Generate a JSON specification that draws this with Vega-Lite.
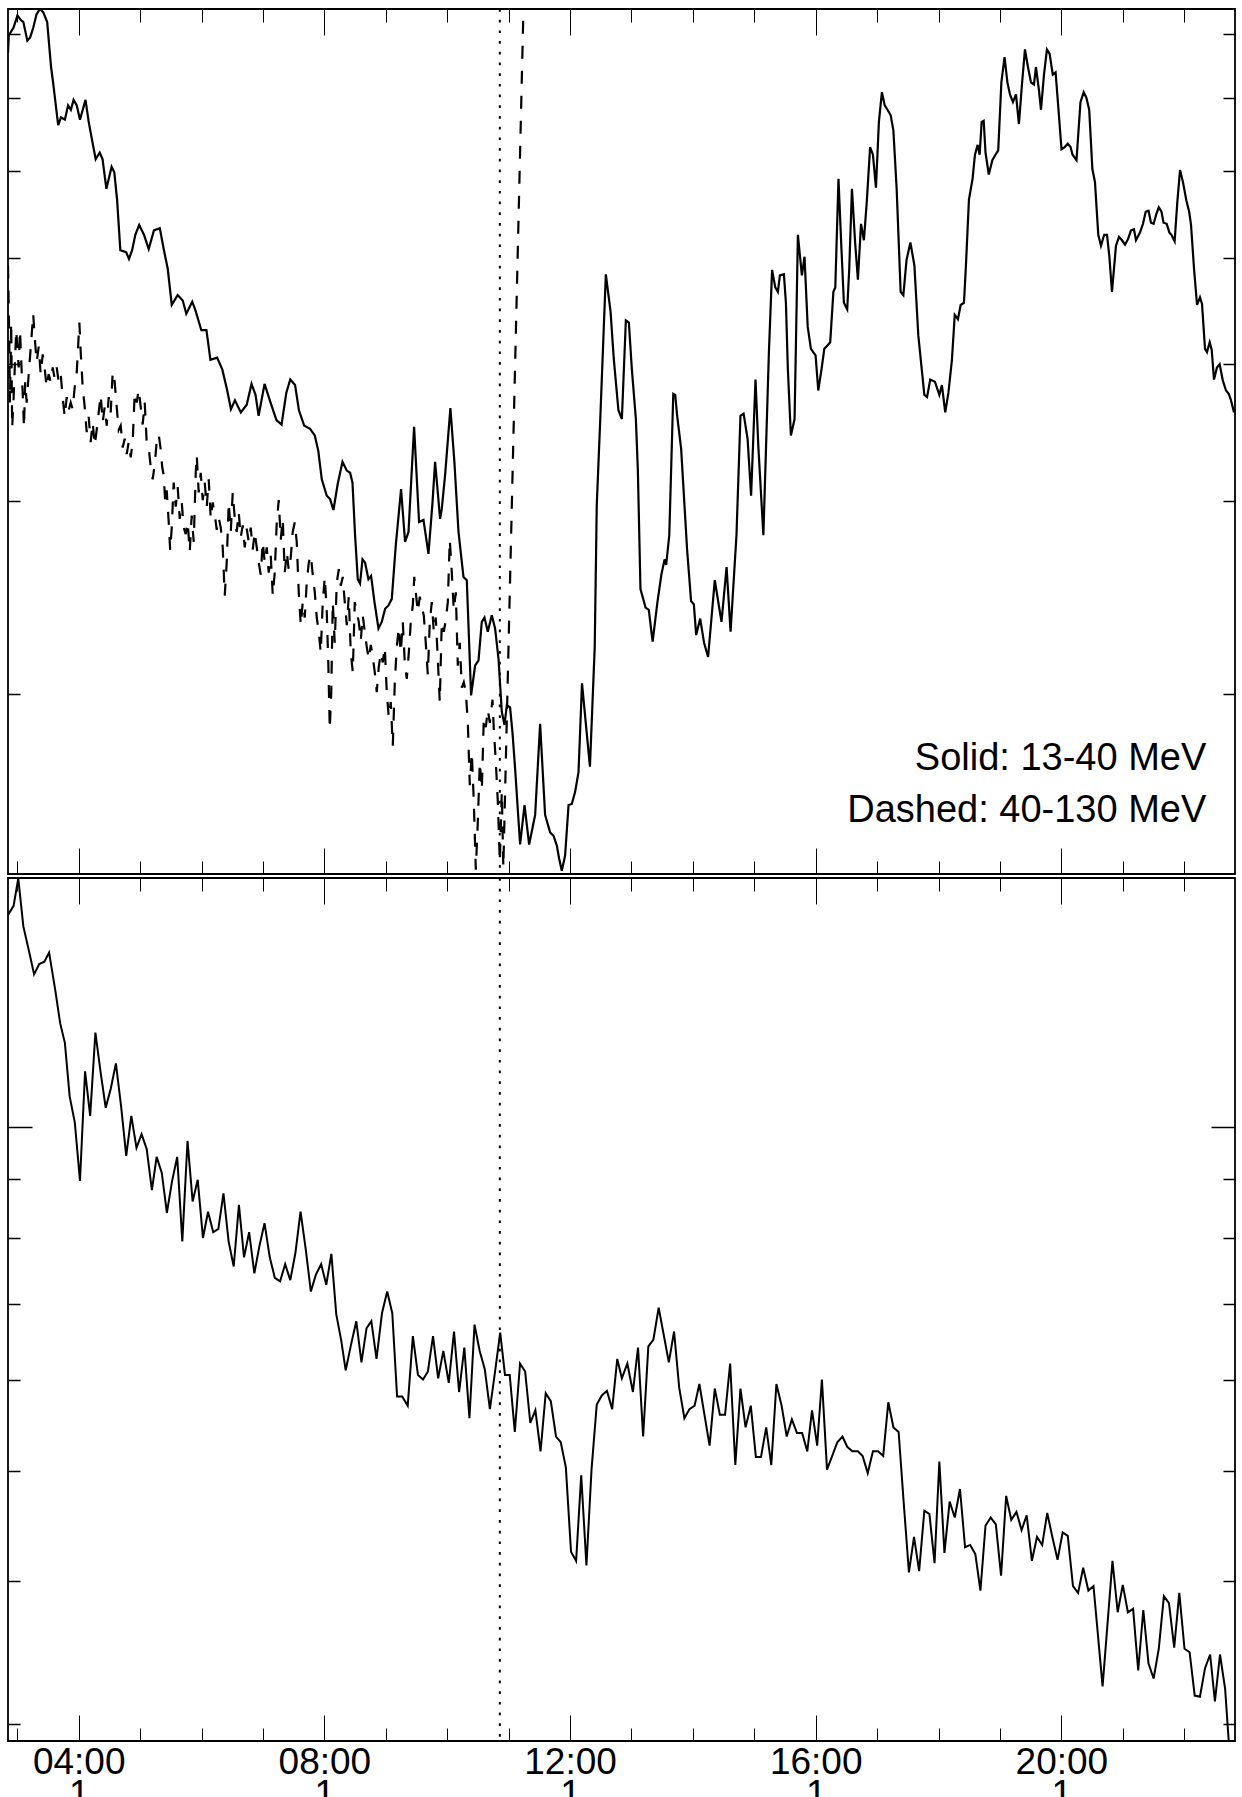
{
"$schema": "https://vega.github.io/schema/vega-lite/v6.json",
"padding": {"left": 6, "top": 7, "right": 0, "bottom": 0},
"background": "white",
"config": {
  "view": {"stroke": "black", "strokeWidth": 1.8},
  "axis": {"domain": false, "grid": false, "labels": false, "tickColor": "black"},
  "font": "Liberation Sans"
},
"spacing": 0,
"datasets": {
"solid": [
{"hour":2.849,"log_flux":0.886},{"hour":2.862,"log_flux":0.902},{"hour":2.940,"log_flux":0.909},{"hour":3.003,"log_flux":0.920},{"hour":3.055,"log_flux":0.916},{"hour":3.099,"log_flux":0.914},{"hour":3.164,"log_flux":0.897},{"hour":3.210,"log_flux":0.900},{"hour":3.261,"log_flux":0.909},{"hour":3.313,"log_flux":0.921},{"hour":3.370,"log_flux":0.926},{"hour":3.422,"log_flux":0.923},{"hour":3.487,"log_flux":0.914},{"hour":3.550,"log_flux":0.873},{"hour":3.583,"log_flux":0.859},{"hour":3.666,"log_flux":0.820},{"hour":3.712,"log_flux":0.827},{"hour":3.775,"log_flux":0.825},{"hour":3.827,"log_flux":0.838},{"hour":3.873,"log_flux":0.834},{"hour":3.917,"log_flux":0.843},{"hour":3.969,"log_flux":0.838},{"hour":4.021,"log_flux":0.825},{"hour":4.111,"log_flux":0.843},{"hour":4.163,"log_flux":0.823},{"hour":4.226,"log_flux":0.804},{"hour":4.277,"log_flux":0.789},{"hour":4.342,"log_flux":0.795},{"hour":4.388,"log_flux":0.789},{"hour":4.451,"log_flux":0.762},{"hour":4.536,"log_flux":0.782},{"hour":4.580,"log_flux":0.777},{"hour":4.625,"log_flux":0.752},{"hour":4.678,"log_flux":0.706},{"hour":4.774,"log_flux":0.704},{"hour":4.819,"log_flux":0.698},{"hour":4.870,"log_flux":0.706},{"hour":4.922,"log_flux":0.720},{"hour":4.985,"log_flux":0.729},{"hour":5.063,"log_flux":0.720},{"hour":5.140,"log_flux":0.707},{"hour":5.225,"log_flux":0.724},{"hour":5.321,"log_flux":0.726},{"hour":5.384,"log_flux":0.707},{"hour":5.450,"log_flux":0.689},{"hour":5.515,"log_flux":0.656},{"hour":5.611,"log_flux":0.665},{"hour":5.694,"log_flux":0.660},{"hour":5.752,"log_flux":0.648},{"hour":5.849,"log_flux":0.659},{"hour":5.901,"log_flux":0.651},{"hour":5.997,"log_flux":0.633},{"hour":6.080,"log_flux":0.633},{"hour":6.145,"log_flux":0.606},{"hour":6.254,"log_flux":0.608},{"hour":6.339,"log_flux":0.597},{"hour":6.415,"log_flux":0.579},{"hour":6.479,"log_flux":0.561},{"hour":6.544,"log_flux":0.569},{"hour":6.640,"log_flux":0.558},{"hour":6.736,"log_flux":0.565},{"hour":6.814,"log_flux":0.584},{"hour":6.879,"log_flux":0.574},{"hour":6.930,"log_flux":0.555},{"hour":7.026,"log_flux":0.584},{"hour":7.124,"log_flux":0.567},{"hour":7.220,"log_flux":0.551},{"hour":7.303,"log_flux":0.547},{"hour":7.381,"log_flux":0.576},{"hour":7.445,"log_flux":0.588},{"hour":7.523,"log_flux":0.583},{"hour":7.586,"log_flux":0.560},{"hour":7.671,"log_flux":0.546},{"hour":7.767,"log_flux":0.543},{"hour":7.844,"log_flux":0.537},{"hour":7.901,"log_flux":0.523},{"hour":7.958,"log_flux":0.497},{"hour":8.039,"log_flux":0.482},{"hour":8.093,"log_flux":0.479},{"hour":8.148,"log_flux":0.469},{"hour":8.218,"log_flux":0.493},{"hour":8.295,"log_flux":0.513},{"hour":8.365,"log_flux":0.505},{"hour":8.419,"log_flux":0.503},{"hour":8.458,"log_flux":0.494},{"hour":8.500,"log_flux":0.446},{"hour":8.544,"log_flux":0.406},{"hour":8.581,"log_flux":0.402},{"hour":8.621,"log_flux":0.424},{"hour":8.663,"log_flux":0.421},{"hour":8.718,"log_flux":0.406},{"hour":8.761,"log_flux":0.409},{"hour":8.816,"log_flux":0.385},{"hour":8.881,"log_flux":0.361},{"hour":8.935,"log_flux":0.367},{"hour":8.989,"log_flux":0.379},{"hour":9.044,"log_flux":0.382},{"hour":9.098,"log_flux":0.388},{"hour":9.163,"log_flux":0.437},{"hour":9.249,"log_flux":0.488},{"hour":9.314,"log_flux":0.440},{"hour":9.370,"log_flux":0.449},{"hour":9.461,"log_flux":0.545},{"hour":9.542,"log_flux":0.458},{"hour":9.614,"log_flux":0.460},{"hour":9.695,"log_flux":0.429},{"hour":9.761,"log_flux":0.476},{"hour":9.803,"log_flux":0.513},{"hour":9.847,"log_flux":0.485},{"hour":9.884,"log_flux":0.461},{"hour":9.912,"log_flux":0.470},{"hour":9.966,"log_flux":0.501},{"hour":10.052,"log_flux":0.562},{"hour":10.117,"log_flux":0.513},{"hour":10.184,"log_flux":0.449},{"hour":10.265,"log_flux":0.408},{"hour":10.319,"log_flux":0.405},{"hour":10.389,"log_flux":0.300},{"hour":10.454,"log_flux":0.327},{"hour":10.510,"log_flux":0.332},{"hour":10.563,"log_flux":0.367},{"hour":10.607,"log_flux":0.371},{"hour":10.661,"log_flux":0.358},{"hour":10.726,"log_flux":0.373},{"hour":10.780,"log_flux":0.361},{"hour":10.836,"log_flux":0.333},{"hour":10.889,"log_flux":0.285},{"hour":10.933,"log_flux":0.273},{"hour":10.971,"log_flux":0.291},{"hour":11.024,"log_flux":0.289},{"hour":11.063,"log_flux":0.266},{"hour":11.106,"log_flux":0.233},{"hour":11.187,"log_flux":0.164},{"hour":11.259,"log_flux":0.200},{"hour":11.334,"log_flux":0.164},{"hour":11.432,"log_flux":0.191},{"hour":11.513,"log_flux":0.274},{"hour":11.594,"log_flux":0.191},{"hour":11.676,"log_flux":0.175},{"hour":11.731,"log_flux":0.172},{"hour":11.785,"log_flux":0.163},{"hour":11.823,"log_flux":0.151},{"hour":11.866,"log_flux":0.140},{"hour":11.920,"log_flux":0.154},{"hour":11.976,"log_flux":0.200},{"hour":12.029,"log_flux":0.201},{"hour":12.083,"log_flux":0.212},{"hour":12.138,"log_flux":0.230},{"hour":12.195,"log_flux":0.311},{"hour":12.324,"log_flux":0.235},{"hour":12.402,"log_flux":0.344},{"hour":12.435,"log_flux":0.473},{"hour":12.498,"log_flux":0.560},{"hour":12.583,"log_flux":0.684},{"hour":12.660,"log_flux":0.650},{"hour":12.712,"log_flux":0.607},{"hour":12.788,"log_flux":0.560},{"hour":12.844,"log_flux":0.552},{"hour":12.909,"log_flux":0.642},{"hour":12.958,"log_flux":0.640},{"hour":13.007,"log_flux":0.597},{"hour":13.072,"log_flux":0.552},{"hour":13.104,"log_flux":0.506},{"hour":13.147,"log_flux":0.397},{"hour":13.230,"log_flux":0.380},{"hour":13.282,"log_flux":0.378},{"hour":13.345,"log_flux":0.349},{"hour":13.423,"log_flux":0.385},{"hour":13.487,"log_flux":0.410},{"hour":13.539,"log_flux":0.424},{"hour":13.565,"log_flux":0.419},{"hour":13.616,"log_flux":0.446},{"hour":13.681,"log_flux":0.575},{"hour":13.713,"log_flux":0.574},{"hour":13.744,"log_flux":0.555},{"hour":13.809,"log_flux":0.525},{"hour":13.906,"log_flux":0.433},{"hour":13.971,"log_flux":0.386},{"hour":14.016,"log_flux":0.383},{"hour":14.054,"log_flux":0.355},{"hour":14.119,"log_flux":0.370},{"hour":14.182,"log_flux":0.348},{"hour":14.248,"log_flux":0.335},{"hour":14.357,"log_flux":0.405},{"hour":14.466,"log_flux":0.367},{"hour":14.549,"log_flux":0.417},{"hour":14.614,"log_flux":0.358},{"hour":14.710,"log_flux":0.446},{"hour":14.775,"log_flux":0.555},{"hour":14.826,"log_flux":0.557},{"hour":14.891,"log_flux":0.534},{"hour":14.948,"log_flux":0.482},{"hour":15.020,"log_flux":0.588},{"hour":15.065,"log_flux":0.528},{"hour":15.148,"log_flux":0.446},{"hour":15.238,"log_flux":0.613},{"hour":15.290,"log_flux":0.688},{"hour":15.342,"log_flux":0.672},{"hour":15.384,"log_flux":0.668},{"hour":15.417,"log_flux":0.683},{"hour":15.482,"log_flux":0.684},{"hour":15.515,"log_flux":0.658},{"hour":15.547,"log_flux":0.597},{"hour":15.596,"log_flux":0.537},{"hour":15.656,"log_flux":0.552},{"hour":15.710,"log_flux":0.720},{"hour":15.775,"log_flux":0.683},{"hour":15.818,"log_flux":0.700},{"hour":15.870,"log_flux":0.636},{"hour":15.922,"log_flux":0.616},{"hour":15.998,"log_flux":0.610},{"hour":16.042,"log_flux":0.578},{"hour":16.094,"log_flux":0.597},{"hour":16.140,"log_flux":0.616},{"hour":16.191,"log_flux":0.619},{"hour":16.236,"log_flux":0.622},{"hour":16.288,"log_flux":0.668},{"hour":16.319,"log_flux":0.672},{"hour":16.371,"log_flux":0.771},{"hour":16.417,"log_flux":0.710},{"hour":16.459,"log_flux":0.658},{"hour":16.513,"log_flux":0.652},{"hour":16.546,"log_flux":0.689},{"hour":16.590,"log_flux":0.762},{"hour":16.642,"log_flux":0.713},{"hour":16.687,"log_flux":0.679},{"hour":16.738,"log_flux":0.730},{"hour":16.785,"log_flux":0.715},{"hour":16.834,"log_flux":0.752},{"hour":16.886,"log_flux":0.800},{"hour":16.932,"log_flux":0.793},{"hour":16.981,"log_flux":0.763},{"hour":17.029,"log_flux":0.823},{"hour":17.078,"log_flux":0.850},{"hour":17.124,"log_flux":0.838},{"hour":17.169,"log_flux":0.834},{"hour":17.221,"log_flux":0.829},{"hour":17.265,"log_flux":0.815},{"hour":17.318,"log_flux":0.762},{"hour":17.383,"log_flux":0.668},{"hour":17.427,"log_flux":0.665},{"hour":17.479,"log_flux":0.697},{"hour":17.542,"log_flux":0.713},{"hour":17.607,"log_flux":0.692},{"hour":17.671,"log_flux":0.628},{"hour":17.769,"log_flux":0.574},{"hour":17.813,"log_flux":0.572},{"hour":17.865,"log_flux":0.588},{"hour":17.941,"log_flux":0.586},{"hour":18.013,"log_flux":0.574},{"hour":18.055,"log_flux":0.583},{"hour":18.109,"log_flux":0.558},{"hour":18.161,"log_flux":0.576},{"hour":18.218,"log_flux":0.606},{"hour":18.264,"log_flux":0.647},{"hour":18.316,"log_flux":0.643},{"hour":18.360,"log_flux":0.656},{"hour":18.414,"log_flux":0.658},{"hour":18.446,"log_flux":0.692},{"hour":18.495,"log_flux":0.752},{"hour":18.554,"log_flux":0.771},{"hour":18.593,"log_flux":0.793},{"hour":18.637,"log_flux":0.802},{"hour":18.669,"log_flux":0.793},{"hour":18.702,"log_flux":0.823},{"hour":18.735,"log_flux":0.824},{"hour":18.765,"log_flux":0.795},{"hour":18.818,"log_flux":0.775},{"hour":18.876,"log_flux":0.788},{"hour":18.927,"log_flux":0.793},{"hour":18.972,"log_flux":0.797},{"hour":19.023,"log_flux":0.859},{"hour":19.075,"log_flux":0.882},{"hour":19.121,"log_flux":0.859},{"hour":19.163,"log_flux":0.848},{"hour":19.212,"log_flux":0.841},{"hour":19.261,"log_flux":0.848},{"hour":19.309,"log_flux":0.821},{"hour":19.358,"log_flux":0.857},{"hour":19.407,"log_flux":0.889},{"hour":19.456,"log_flux":0.873},{"hour":19.505,"log_flux":0.859},{"hour":19.554,"log_flux":0.857},{"hour":19.586,"log_flux":0.873},{"hour":19.635,"log_flux":0.852},{"hour":19.668,"log_flux":0.834},{"hour":19.717,"log_flux":0.866},{"hour":19.765,"log_flux":0.889},{"hour":19.809,"log_flux":0.885},{"hour":19.860,"log_flux":0.866},{"hour":19.906,"log_flux":0.868},{"hour":19.956,"log_flux":0.832},{"hour":20.002,"log_flux":0.798},{"hour":20.054,"log_flux":0.800},{"hour":20.104,"log_flux":0.803},{"hour":20.150,"log_flux":0.800},{"hour":20.182,"log_flux":0.793},{"hour":20.246,"log_flux":0.788},{"hour":20.311,"log_flux":0.841},{"hour":20.363,"log_flux":0.850},{"hour":20.407,"log_flux":0.845},{"hour":20.453,"log_flux":0.834},{"hour":20.505,"log_flux":0.780},{"hour":20.547,"log_flux":0.768},{"hour":20.601,"log_flux":0.720},{"hour":20.645,"log_flux":0.710},{"hour":20.697,"log_flux":0.720},{"hour":20.743,"log_flux":0.720},{"hour":20.780,"log_flux":0.701},{"hour":20.824,"log_flux":0.668},{"hour":20.889,"log_flux":0.710},{"hour":20.938,"log_flux":0.718},{"hour":20.987,"log_flux":0.715},{"hour":21.036,"log_flux":0.711},{"hour":21.085,"log_flux":0.716},{"hour":21.134,"log_flux":0.724},{"hour":21.182,"log_flux":0.725},{"hour":21.215,"log_flux":0.715},{"hour":21.280,"log_flux":0.722},{"hour":21.329,"log_flux":0.730},{"hour":21.373,"log_flux":0.741},{"hour":21.419,"log_flux":0.742},{"hour":21.459,"log_flux":0.731},{"hour":21.502,"log_flux":0.730},{"hour":21.547,"log_flux":0.739},{"hour":21.586,"log_flux":0.745},{"hour":21.630,"log_flux":0.741},{"hour":21.663,"log_flux":0.731},{"hour":21.715,"log_flux":0.730},{"hour":21.759,"log_flux":0.722},{"hour":21.792,"log_flux":0.720},{"hour":21.844,"log_flux":0.714},{"hour":21.888,"log_flux":0.750},{"hour":21.932,"log_flux":0.779},{"hour":21.980,"log_flux":0.768},{"hour":22.036,"log_flux":0.751},{"hour":22.081,"log_flux":0.741},{"hour":22.111,"log_flux":0.729},{"hour":22.160,"log_flux":0.689},{"hour":22.209,"log_flux":0.656},{"hour":22.257,"log_flux":0.663},{"hour":22.290,"log_flux":0.657},{"hour":22.339,"log_flux":0.616},{"hour":22.371,"log_flux":0.613},{"hour":22.415,"log_flux":0.622},{"hour":22.448,"log_flux":0.615},{"hour":22.485,"log_flux":0.588},{"hour":22.533,"log_flux":0.599},{"hour":22.577,"log_flux":0.602},{"hour":22.629,"log_flux":0.587},{"hour":22.681,"log_flux":0.578},{"hour":22.725,"log_flux":0.575},{"hour":22.757,"log_flux":0.570},{"hour":22.811,"log_flux":0.558}
],
"dashed": [
{"hour":2.849,"log_flux":0.692},{"hour":2.868,"log_flux":0.631},{"hour":2.881,"log_flux":0.567},{"hour":2.901,"log_flux":0.640},{"hour":2.917,"log_flux":0.544},{"hour":2.941,"log_flux":0.572},{"hour":2.963,"log_flux":0.604},{"hour":2.982,"log_flux":0.633},{"hour":3.007,"log_flux":0.613},{"hour":3.023,"log_flux":0.599},{"hour":3.044,"log_flux":0.633},{"hour":3.072,"log_flux":0.595},{"hour":3.088,"log_flux":0.576},{"hour":3.109,"log_flux":0.544},{"hour":3.129,"log_flux":0.586},{"hour":3.153,"log_flux":0.567},{"hour":3.194,"log_flux":0.599},{"hour":3.226,"log_flux":0.622},{"hour":3.259,"log_flux":0.648},{"hour":3.283,"log_flux":0.627},{"hour":3.316,"log_flux":0.604},{"hour":3.349,"log_flux":0.618},{"hour":3.381,"log_flux":0.593},{"hour":3.414,"log_flux":0.611},{"hour":3.446,"log_flux":0.598},{"hour":3.479,"log_flux":0.581},{"hour":3.511,"log_flux":0.593},{"hour":3.544,"log_flux":0.586},{"hour":3.577,"log_flux":0.599},{"hour":3.609,"log_flux":0.589},{"hour":3.642,"log_flux":0.599},{"hour":3.674,"log_flux":0.586},{"hour":3.707,"log_flux":0.593},{"hour":3.739,"log_flux":0.572},{"hour":3.772,"log_flux":0.554},{"hour":3.805,"log_flux":0.572},{"hour":3.837,"log_flux":0.560},{"hour":3.870,"log_flux":0.567},{"hour":3.902,"log_flux":0.561},{"hour":3.935,"log_flux":0.581},{"hour":3.967,"log_flux":0.593},{"hour":4.011,"log_flux":0.640},{"hour":4.033,"log_flux":0.613},{"hour":4.065,"log_flux":0.581},{"hour":4.098,"log_flux":0.563},{"hour":4.130,"log_flux":0.540},{"hour":4.163,"log_flux":0.554},{"hour":4.195,"log_flux":0.531},{"hour":4.228,"log_flux":0.549},{"hour":4.261,"log_flux":0.528},{"hour":4.293,"log_flux":0.542},{"hour":4.326,"log_flux":0.558},{"hour":4.358,"log_flux":0.574},{"hour":4.391,"log_flux":0.549},{"hour":4.423,"log_flux":0.563},{"hour":4.456,"log_flux":0.546},{"hour":4.489,"log_flux":0.572},{"hour":4.521,"log_flux":0.558},{"hour":4.554,"log_flux":0.595},{"hour":4.586,"log_flux":0.586},{"hour":4.619,"log_flux":0.563},{"hour":4.651,"log_flux":0.542},{"hour":4.684,"log_flux":0.546},{"hour":4.717,"log_flux":0.526},{"hour":4.749,"log_flux":0.534},{"hour":4.782,"log_flux":0.520},{"hour":4.814,"log_flux":0.531},{"hour":4.847,"log_flux":0.517},{"hour":4.879,"log_flux":0.531},{"hour":4.912,"log_flux":0.576},{"hour":4.945,"log_flux":0.567},{"hour":4.977,"log_flux":0.579},{"hour":5.010,"log_flux":0.563},{"hour":5.042,"log_flux":0.547},{"hour":5.075,"log_flux":0.567},{"hour":5.107,"log_flux":0.531},{"hour":5.140,"log_flux":0.526},{"hour":5.173,"log_flux":0.508},{"hour":5.205,"log_flux":0.497},{"hour":5.238,"log_flux":0.511},{"hour":5.270,"log_flux":0.531},{"hour":5.303,"log_flux":0.538},{"hour":5.336,"log_flux":0.524},{"hour":5.360,"log_flux":0.508},{"hour":5.384,"log_flux":0.501},{"hour":5.409,"log_flux":0.476},{"hour":5.433,"log_flux":0.487},{"hour":5.466,"log_flux":0.458},{"hour":5.490,"log_flux":0.432},{"hour":5.515,"log_flux":0.453},{"hour":5.547,"log_flux":0.494},{"hour":5.580,"log_flux":0.472},{"hour":5.612,"log_flux":0.490},{"hour":5.645,"log_flux":0.461},{"hour":5.678,"log_flux":0.476},{"hour":5.710,"log_flux":0.453},{"hour":5.743,"log_flux":0.447},{"hour":5.775,"log_flux":0.458},{"hour":5.808,"log_flux":0.431},{"hour":5.840,"log_flux":0.464},{"hour":5.873,"log_flux":0.440},{"hour":5.906,"log_flux":0.503},{"hour":5.922,"log_flux":0.519},{"hour":5.954,"log_flux":0.485},{"hour":5.987,"log_flux":0.503},{"hour":6.020,"log_flux":0.478},{"hour":6.052,"log_flux":0.494},{"hour":6.085,"log_flux":0.472},{"hour":6.117,"log_flux":0.497},{"hour":6.150,"log_flux":0.461},{"hour":6.182,"log_flux":0.476},{"hour":6.215,"log_flux":0.465},{"hour":6.248,"log_flux":0.451},{"hour":6.280,"log_flux":0.462},{"hour":6.313,"log_flux":0.453},{"hour":6.345,"log_flux":0.435},{"hour":6.378,"log_flux":0.391},{"hour":6.410,"log_flux":0.421},{"hour":6.443,"log_flux":0.476},{"hour":6.476,"log_flux":0.449},{"hour":6.508,"log_flux":0.485},{"hour":6.541,"log_flux":0.462},{"hour":6.573,"log_flux":0.449},{"hour":6.606,"log_flux":0.467},{"hour":6.638,"log_flux":0.444},{"hour":6.671,"log_flux":0.455},{"hour":6.704,"log_flux":0.435},{"hour":6.736,"log_flux":0.452},{"hour":6.769,"log_flux":0.440},{"hour":6.801,"log_flux":0.453},{"hour":6.834,"log_flux":0.433},{"hour":6.866,"log_flux":0.449},{"hour":6.899,"log_flux":0.435},{"hour":6.932,"log_flux":0.421},{"hour":6.964,"log_flux":0.410},{"hour":6.997,"log_flux":0.440},{"hour":7.029,"log_flux":0.421},{"hour":7.062,"log_flux":0.435},{"hour":7.094,"log_flux":0.412},{"hour":7.127,"log_flux":0.428},{"hour":7.160,"log_flux":0.391},{"hour":7.192,"log_flux":0.412},{"hour":7.225,"log_flux":0.458},{"hour":7.257,"log_flux":0.478},{"hour":7.290,"log_flux":0.442},{"hour":7.322,"log_flux":0.461},{"hour":7.355,"log_flux":0.412},{"hour":7.388,"log_flux":0.431},{"hour":7.420,"log_flux":0.414},{"hour":7.453,"log_flux":0.426},{"hour":7.485,"log_flux":0.449},{"hour":7.518,"log_flux":0.458},{"hour":7.550,"log_flux":0.440},{"hour":7.583,"log_flux":0.394},{"hour":7.616,"log_flux":0.364},{"hour":7.648,"log_flux":0.385},{"hour":7.681,"log_flux":0.371},{"hour":7.713,"log_flux":0.403},{"hour":7.746,"log_flux":0.421},{"hour":7.779,"log_flux":0.428},{"hour":7.811,"log_flux":0.410},{"hour":7.844,"log_flux":0.394},{"hour":7.876,"log_flux":0.371},{"hour":7.909,"log_flux":0.358},{"hour":7.941,"log_flux":0.339},{"hour":7.974,"log_flux":0.385},{"hour":8.007,"log_flux":0.408},{"hour":8.039,"log_flux":0.376},{"hour":8.064,"log_flux":0.330},{"hour":8.088,"log_flux":0.269},{"hour":8.112,"log_flux":0.303},{"hour":8.137,"log_flux":0.385},{"hour":8.169,"log_flux":0.348},{"hour":8.202,"log_flux":0.403},{"hour":8.235,"log_flux":0.415},{"hour":8.267,"log_flux":0.400},{"hour":8.300,"log_flux":0.408},{"hour":8.332,"log_flux":0.385},{"hour":8.365,"log_flux":0.364},{"hour":8.397,"log_flux":0.390},{"hour":8.430,"log_flux":0.339},{"hour":8.463,"log_flux":0.321},{"hour":8.495,"log_flux":0.385},{"hour":8.528,"log_flux":0.376},{"hour":8.560,"log_flux":0.367},{"hour":8.593,"log_flux":0.350},{"hour":8.625,"log_flux":0.373},{"hour":8.658,"log_flux":0.358},{"hour":8.691,"log_flux":0.344},{"hour":8.723,"log_flux":0.333},{"hour":8.756,"log_flux":0.346},{"hour":8.788,"log_flux":0.335},{"hour":8.821,"log_flux":0.321},{"hour":8.853,"log_flux":0.303},{"hour":8.886,"log_flux":0.326},{"hour":8.919,"log_flux":0.339},{"hour":8.951,"log_flux":0.330},{"hour":8.984,"log_flux":0.344},{"hour":9.016,"log_flux":0.303},{"hour":9.049,"log_flux":0.280},{"hour":9.081,"log_flux":0.294},{"hour":9.114,"log_flux":0.254},{"hour":9.147,"log_flux":0.312},{"hour":9.179,"log_flux":0.344},{"hour":9.212,"log_flux":0.362},{"hour":9.244,"log_flux":0.339},{"hour":9.277,"log_flux":0.367},{"hour":9.309,"log_flux":0.330},{"hour":9.342,"log_flux":0.315},{"hour":9.375,"log_flux":0.339},{"hour":9.407,"log_flux":0.367},{"hour":9.440,"log_flux":0.382},{"hour":9.464,"log_flux":0.408},{"hour":9.489,"log_flux":0.394},{"hour":9.521,"log_flux":0.376},{"hour":9.554,"log_flux":0.390},{"hour":9.586,"log_flux":0.380},{"hour":9.619,"log_flux":0.373},{"hour":9.651,"log_flux":0.348},{"hour":9.684,"log_flux":0.319},{"hour":9.717,"log_flux":0.367},{"hour":9.749,"log_flux":0.385},{"hour":9.782,"log_flux":0.358},{"hour":9.814,"log_flux":0.371},{"hour":9.847,"log_flux":0.333},{"hour":9.879,"log_flux":0.294},{"hour":9.912,"log_flux":0.367},{"hour":9.945,"log_flux":0.358},{"hour":9.977,"log_flux":0.369},{"hour":10.010,"log_flux":0.385},{"hour":10.042,"log_flux":0.442},{"hour":10.075,"log_flux":0.412},{"hour":10.107,"log_flux":0.378},{"hour":10.140,"log_flux":0.394},{"hour":10.173,"log_flux":0.327},{"hour":10.205,"log_flux":0.348},{"hour":10.238,"log_flux":0.307},{"hour":10.270,"log_flux":0.312},{"hour":10.303,"log_flux":0.303},{"hour":10.336,"log_flux":0.275},{"hour":10.368,"log_flux":0.218},{"hour":10.401,"log_flux":0.248},{"hour":10.433,"log_flux":0.203},{"hour":10.466,"log_flux":0.141},{"hour":10.498,"log_flux":0.184},{"hour":10.531,"log_flux":0.239},{"hour":10.564,"log_flux":0.214},{"hour":10.596,"log_flux":0.280},{"hour":10.629,"log_flux":0.271},{"hour":10.661,"log_flux":0.287},{"hour":10.694,"log_flux":0.275},{"hour":10.738,"log_flux":0.296},{"hour":10.759,"log_flux":0.269},{"hour":10.792,"log_flux":0.239},{"hour":10.824,"log_flux":0.203},{"hour":10.857,"log_flux":0.148},{"hour":10.889,"log_flux":0.212},{"hour":10.914,"log_flux":0.143},{"hour":11.691,"log_flux":2.0}
],
"bottom": [
{"hour":2.849,"log_flux":1.186},{"hour":2.940,"log_flux":1.194},{"hour":3.016,"log_flux":1.218},{"hour":3.099,"log_flux":1.176},{"hour":3.184,"log_flux":1.156},{"hour":3.274,"log_flux":1.134},{"hour":3.357,"log_flux":1.143},{"hour":3.441,"log_flux":1.145},{"hour":3.518,"log_flux":1.153},{"hour":3.616,"log_flux":1.121},{"hour":3.699,"log_flux":1.091},{"hour":3.775,"log_flux":1.074},{"hour":3.853,"log_flux":1.027},{"hour":3.937,"log_flux":1.004},{"hour":4.021,"log_flux":0.953},{"hour":4.104,"log_flux":1.049},{"hour":4.187,"log_flux":1.010},{"hour":4.272,"log_flux":1.083},{"hour":4.355,"log_flux":1.049},{"hour":4.440,"log_flux":1.017},{"hour":4.523,"log_flux":1.034},{"hour":4.606,"log_flux":1.056},{"hour":4.691,"log_flux":1.018},{"hour":4.774,"log_flux":0.975},{"hour":4.857,"log_flux":1.010},{"hour":4.941,"log_flux":0.982},{"hour":5.024,"log_flux":0.994},{"hour":5.107,"log_flux":0.981},{"hour":5.192,"log_flux":0.945},{"hour":5.269,"log_flux":0.974},{"hour":5.353,"log_flux":0.960},{"hour":5.436,"log_flux":0.925},{"hour":5.521,"log_flux":0.953},{"hour":5.604,"log_flux":0.974},{"hour":5.687,"log_flux":0.900},{"hour":5.772,"log_flux":0.988},{"hour":5.855,"log_flux":0.935},{"hour":5.938,"log_flux":0.954},{"hour":6.023,"log_flux":0.903},{"hour":6.106,"log_flux":0.926},{"hour":6.191,"log_flux":0.908},{"hour":6.274,"log_flux":0.911},{"hour":6.357,"log_flux":0.942},{"hour":6.441,"log_flux":0.900},{"hour":6.524,"log_flux":0.878},{"hour":6.609,"log_flux":0.932},{"hour":6.692,"log_flux":0.886},{"hour":6.775,"log_flux":0.908},{"hour":6.860,"log_flux":0.872},{"hour":6.943,"log_flux":0.896},{"hour":7.026,"log_flux":0.916},{"hour":7.111,"log_flux":0.886},{"hour":7.194,"log_flux":0.868},{"hour":7.279,"log_flux":0.865},{"hour":7.362,"log_flux":0.880},{"hour":7.445,"log_flux":0.866},{"hour":7.529,"log_flux":0.890},{"hour":7.612,"log_flux":0.926},{"hour":7.697,"log_flux":0.893},{"hour":7.780,"log_flux":0.856},{"hour":7.863,"log_flux":0.871},{"hour":7.948,"log_flux":0.880},{"hour":8.031,"log_flux":0.862},{"hour":8.114,"log_flux":0.889},{"hour":8.194,"log_flux":0.836},{"hour":8.275,"log_flux":0.813},{"hour":8.347,"log_flux":0.787},{"hour":8.436,"log_flux":0.810},{"hour":8.520,"log_flux":0.830},{"hour":8.604,"log_flux":0.794},{"hour":8.687,"log_flux":0.824},{"hour":8.765,"log_flux":0.830},{"hour":8.849,"log_flux":0.797},{"hour":8.938,"log_flux":0.837},{"hour":9.023,"log_flux":0.856},{"hour":9.106,"log_flux":0.837},{"hour":9.184,"log_flux":0.764},{"hour":9.267,"log_flux":0.764},{"hour":9.357,"log_flux":0.756},{"hour":9.441,"log_flux":0.817},{"hour":9.524,"log_flux":0.783},{"hour":9.607,"log_flux":0.779},{"hour":9.686,"log_flux":0.786},{"hour":9.769,"log_flux":0.817},{"hour":9.853,"log_flux":0.780},{"hour":9.937,"log_flux":0.804},{"hour":10.026,"log_flux":0.776},{"hour":10.111,"log_flux":0.821},{"hour":10.194,"log_flux":0.768},{"hour":10.279,"log_flux":0.807},{"hour":10.362,"log_flux":0.745},{"hour":10.445,"log_flux":0.827},{"hour":10.529,"log_flux":0.804},{"hour":10.612,"log_flux":0.788},{"hour":10.695,"log_flux":0.753},{"hour":10.780,"log_flux":0.786},{"hour":10.863,"log_flux":0.820},{"hour":10.941,"log_flux":0.783},{"hour":11.018,"log_flux":0.783},{"hour":11.101,"log_flux":0.733},{"hour":11.186,"log_flux":0.793},{"hour":11.269,"log_flux":0.786},{"hour":11.353,"log_flux":0.741},{"hour":11.436,"log_flux":0.752},{"hour":11.520,"log_flux":0.716},{"hour":11.604,"log_flux":0.767},{"hour":11.687,"log_flux":0.760},{"hour":11.772,"log_flux":0.729},{"hour":11.849,"log_flux":0.724},{"hour":11.932,"log_flux":0.702},{"hour":12.016,"log_flux":0.628},{"hour":12.099,"log_flux":0.620},{"hour":12.182,"log_flux":0.695},{"hour":12.267,"log_flux":0.616},{"hour":12.350,"log_flux":0.700},{"hour":12.435,"log_flux":0.757},{"hour":12.518,"log_flux":0.765},{"hour":12.601,"log_flux":0.769},{"hour":12.686,"log_flux":0.753},{"hour":12.769,"log_flux":0.797},{"hour":12.844,"log_flux":0.780},{"hour":12.933,"log_flux":0.793},{"hour":13.024,"log_flux":0.768},{"hour":13.107,"log_flux":0.807},{"hour":13.190,"log_flux":0.729},{"hour":13.275,"log_flux":0.808},{"hour":13.358,"log_flux":0.814},{"hour":13.443,"log_flux":0.842},{"hour":13.526,"log_flux":0.818},{"hour":13.609,"log_flux":0.794},{"hour":13.694,"log_flux":0.821},{"hour":13.777,"log_flux":0.772},{"hour":13.862,"log_flux":0.745},{"hour":13.945,"log_flux":0.753},{"hour":14.028,"log_flux":0.756},{"hour":14.106,"log_flux":0.775},{"hour":14.189,"log_flux":0.748},{"hour":14.272,"log_flux":0.721},{"hour":14.357,"log_flux":0.771},{"hour":14.440,"log_flux":0.748},{"hour":14.524,"log_flux":0.748},{"hour":14.607,"log_flux":0.793},{"hour":14.691,"log_flux":0.704},{"hour":14.775,"log_flux":0.771},{"hour":14.858,"log_flux":0.737},{"hour":14.943,"log_flux":0.756},{"hour":15.026,"log_flux":0.711},{"hour":15.109,"log_flux":0.711},{"hour":15.194,"log_flux":0.737},{"hour":15.277,"log_flux":0.704},{"hour":15.360,"log_flux":0.775},{"hour":15.445,"log_flux":0.756},{"hour":15.528,"log_flux":0.729},{"hour":15.612,"log_flux":0.744},{"hour":15.695,"log_flux":0.732},{"hour":15.779,"log_flux":0.732},{"hour":15.863,"log_flux":0.716},{"hour":15.940,"log_flux":0.752},{"hour":16.024,"log_flux":0.721},{"hour":16.101,"log_flux":0.779},{"hour":16.184,"log_flux":0.700},{"hour":16.269,"log_flux":0.712},{"hour":16.352,"log_flux":0.724},{"hour":16.436,"log_flux":0.729},{"hour":16.513,"log_flux":0.720},{"hour":16.596,"log_flux":0.716},{"hour":16.687,"log_flux":0.716},{"hour":16.764,"log_flux":0.712},{"hour":16.847,"log_flux":0.697},{"hour":16.932,"log_flux":0.716},{"hour":17.015,"log_flux":0.716},{"hour":17.099,"log_flux":0.712},{"hour":17.182,"log_flux":0.759},{"hour":17.266,"log_flux":0.737},{"hour":17.350,"log_flux":0.733},{"hour":17.433,"log_flux":0.671},{"hour":17.518,"log_flux":0.610},{"hour":17.601,"log_flux":0.641},{"hour":17.684,"log_flux":0.611},{"hour":17.769,"log_flux":0.664},{"hour":17.852,"log_flux":0.661},{"hour":17.935,"log_flux":0.618},{"hour":18.013,"log_flux":0.707},{"hour":18.096,"log_flux":0.627},{"hour":18.181,"log_flux":0.672},{"hour":18.264,"log_flux":0.658},{"hour":18.349,"log_flux":0.683},{"hour":18.432,"log_flux":0.632},{"hour":18.515,"log_flux":0.634},{"hour":18.599,"log_flux":0.626},{"hour":18.682,"log_flux":0.594},{"hour":18.765,"log_flux":0.651},{"hour":18.850,"log_flux":0.658},{"hour":18.933,"log_flux":0.652},{"hour":19.018,"log_flux":0.607},{"hour":19.101,"log_flux":0.677},{"hour":19.184,"log_flux":0.656},{"hour":19.269,"log_flux":0.663},{"hour":19.352,"log_flux":0.647},{"hour":19.435,"log_flux":0.660},{"hour":19.520,"log_flux":0.620},{"hour":19.603,"log_flux":0.641},{"hour":19.687,"log_flux":0.634},{"hour":19.770,"log_flux":0.662},{"hour":19.853,"log_flux":0.641},{"hour":19.938,"log_flux":0.621},{"hour":20.021,"log_flux":0.645},{"hour":20.104,"log_flux":0.642},{"hour":20.189,"log_flux":0.598},{"hour":20.272,"log_flux":0.592},{"hour":20.355,"log_flux":0.614},{"hour":20.440,"log_flux":0.594},{"hour":20.523,"log_flux":0.598},{"hour":20.671,"log_flux":0.510},{"hour":20.832,"log_flux":0.620},{"hour":20.917,"log_flux":0.575},{"hour":21.000,"log_flux":0.599},{"hour":21.083,"log_flux":0.575},{"hour":21.168,"log_flux":0.578},{"hour":21.251,"log_flux":0.524},{"hour":21.334,"log_flux":0.577},{"hour":21.419,"log_flux":0.530},{"hour":21.502,"log_flux":0.517},{"hour":21.586,"log_flux":0.543},{"hour":21.669,"log_flux":0.589},{"hour":21.752,"log_flux":0.583},{"hour":21.837,"log_flux":0.544},{"hour":21.920,"log_flux":0.592},{"hour":22.005,"log_flux":0.543},{"hour":22.088,"log_flux":0.540},{"hour":22.171,"log_flux":0.502},{"hour":22.256,"log_flux":0.501},{"hour":22.339,"log_flux":0.526},{"hour":22.422,"log_flux":0.538},{"hour":22.500,"log_flux":0.497},{"hour":22.583,"log_flux":0.538},{"hour":22.666,"log_flux":0.508},{"hour":22.770,"log_flux":0.427}
]
},
"vconcat": [
{
  "width": 1227, "height": 865,
  "layer": [
    {
      "data": {"name": "solid"},
      "mark": {"type": "line", "color": "black", "strokeWidth": 2.2, "clip": true},
      "encoding": {
        "x": {"field": "hour", "type": "quantitative", "scale": {"domain": [2.849, 22.827], "nice": false, "zero": false},
              "axis": {"orient": "bottom", "title": null, "values": [3,4,5,6,7,8,9,10,11,12,13,14,15,16,17,18,19,20,21,22], "tickWidth": 1, "tickSize": {"condition": {"test": "datum.value % 4 === 0", "value": -26}, "value": -13}, "labels": false}},
        "y": {"field": "log_flux", "type": "quantitative", "scale": {"domain": [0.1371, 0.9259], "nice": false, "zero": false},
              "axis": {"orient": "left", "title": null, "values": [0.30103, 0.47712, 0.60206, 0.69897, 0.77815, 0.8451, 0.90309], "tickSize": -12, "tickWidth": 1.5, "labels": false}}
      }
    },
    {
      "data": {"name": "dashed"},
      "mark": {"type": "line", "color": "black", "strokeWidth": 2.2, "strokeDash": [13, 12], "clip": true},
      "encoding": {
        "x": {"field": "hour", "type": "quantitative",
              "axis": {"orient": "top", "title": null, "values": [3,4,5,6,7,8,9,10,11,12,13,14,15,16,17,18,19,20,21,22], "tickWidth": 1, "tickSize": {"condition": {"test": "datum.value % 4 === 0", "value": -26}, "value": -13}, "labels": false}},
        "y": {"field": "log_flux", "type": "quantitative",
              "axis": {"orient": "right", "title": null, "values": [0.30103, 0.47712, 0.60206, 0.69897, 0.77815, 0.8451, 0.90309], "tickSize": -12, "tickWidth": 1.5, "labels": false}}
      }
    },
    {
      "data": {"values": [{}]},
      "mark": {"type": "rule", "color": "black", "strokeWidth": 2, "strokeDash": [2.7, 8]},
      "encoding": {"x": {"datum": 10.857, "type": "quantitative", "axis": null}}
    },
    {
      "data": {"values": [{}]},
      "mark": {"type": "text", "text": "Solid: 13-40 MeV", "align": "right", "baseline": "alphabetic", "fontSize": 38, "font": "Liberation Sans", "color": "black"},
      "encoding": {"x": {"datum": 22.36, "type": "quantitative", "axis": null}, "y": {"datum": 0.2317, "type": "quantitative", "axis": null}}
    },
    {
      "data": {"values": [{}]},
      "mark": {"type": "text", "text": "Dashed: 40-130 MeV", "align": "right", "baseline": "alphabetic", "fontSize": 38, "font": "Liberation Sans", "color": "black"},
      "encoding": {"x": {"datum": 22.36, "type": "quantitative", "axis": null}, "y": {"datum": 0.1843, "type": "quantitative", "axis": null}}
    }
  ],
  "resolve": {"axis": {"x": "independent", "y": "independent"}}
},
{
  "width": 1227, "height": 863,
  "layer": [
    {
      "data": {"name": "bottom"},
      "mark": {"type": "line", "color": "black", "strokeWidth": 2, "clip": true},
      "encoding": {
        "x": {"field": "hour", "type": "quantitative", "scale": {"domain": [2.849, 22.827], "nice": false, "zero": false},
              "axis": {"orient": "bottom", "title": null, "values": [3,4,5,6,7,8,9,10,11,12,13,14,15,16,17,18,19,20,21,22], "tickWidth": 1, "tickSize": {"condition": {"test": "datum.value % 4 === 0", "value": -26}, "value": -13},
                       "labels": true, "labelExpr": "datum.value % 4 === 0 ? format(datum.value, '02d') + ':00' : ''", "labelFont": "Liberation Sans", "labelFontSize": 37, "labelColor": "black", "labelBaseline": "top", "labelPadding": 29.5, "labelOverlap": false, "labelFlush": false, "labelAngle": 0}},
        "y": {"field": "log_flux", "type": "quantitative", "scale": {"domain": [0.4622, 1.2184], "nice": false, "zero": false},
              "axis": {"orient": "left", "title": null, "values": [0.47712, 0.60206, 0.69897, 0.77815, 0.8451, 0.90309, 0.95424, 1], "tickSize": {"condition": {"test": "datum.value > 0.99", "value": -24}, "value": -12}, "tickWidth": 1.5, "labels": false}}
      }
    },
    {
      "data": {"name": "bottom"},
      "mark": {"type": "line", "strokeOpacity": 0, "clip": true},
      "encoding": {
        "x": {"field": "hour", "type": "quantitative",
              "axis": {"orient": "top", "title": null, "values": [3,4,5,6,7,8,9,10,11,12,13,14,15,16,17,18,19,20,21,22], "tickWidth": 1, "tickSize": {"condition": {"test": "datum.value % 4 === 0", "value": -26}, "value": -13}, "labels": false}},
        "y": {"field": "log_flux", "type": "quantitative",
              "axis": {"orient": "right", "title": null, "values": [0.47712, 0.60206, 0.69897, 0.77815, 0.8451, 0.90309, 0.95424, 1], "tickSize": {"condition": {"test": "datum.value > 0.99", "value": -24}, "value": -12}, "tickWidth": 1.5, "labels": false}}
      }
    },
    {
      "data": {"values": [{}]},
      "mark": {"type": "rule", "color": "black", "strokeWidth": 2, "strokeDash": [2.7, 8]},
      "encoding": {"x": {"datum": 10.857, "type": "quantitative",
        "axis": {"orient": "bottom", "title": null, "values": [4,8,12,16,20], "ticks": false, "tickSize": 0,
                 "labels": true, "labelExpr": "'1'", "labelFont": "Liberation Sans", "labelFontSize": 37, "labelColor": "black", "labelBaseline": "top", "labelPadding": 35, "labelOverlap": false, "labelFlush": false, "labelAngle": 0}}}
    }
  ],
  "resolve": {"axis": {"x": "independent", "y": "independent"}}
}
]
}
